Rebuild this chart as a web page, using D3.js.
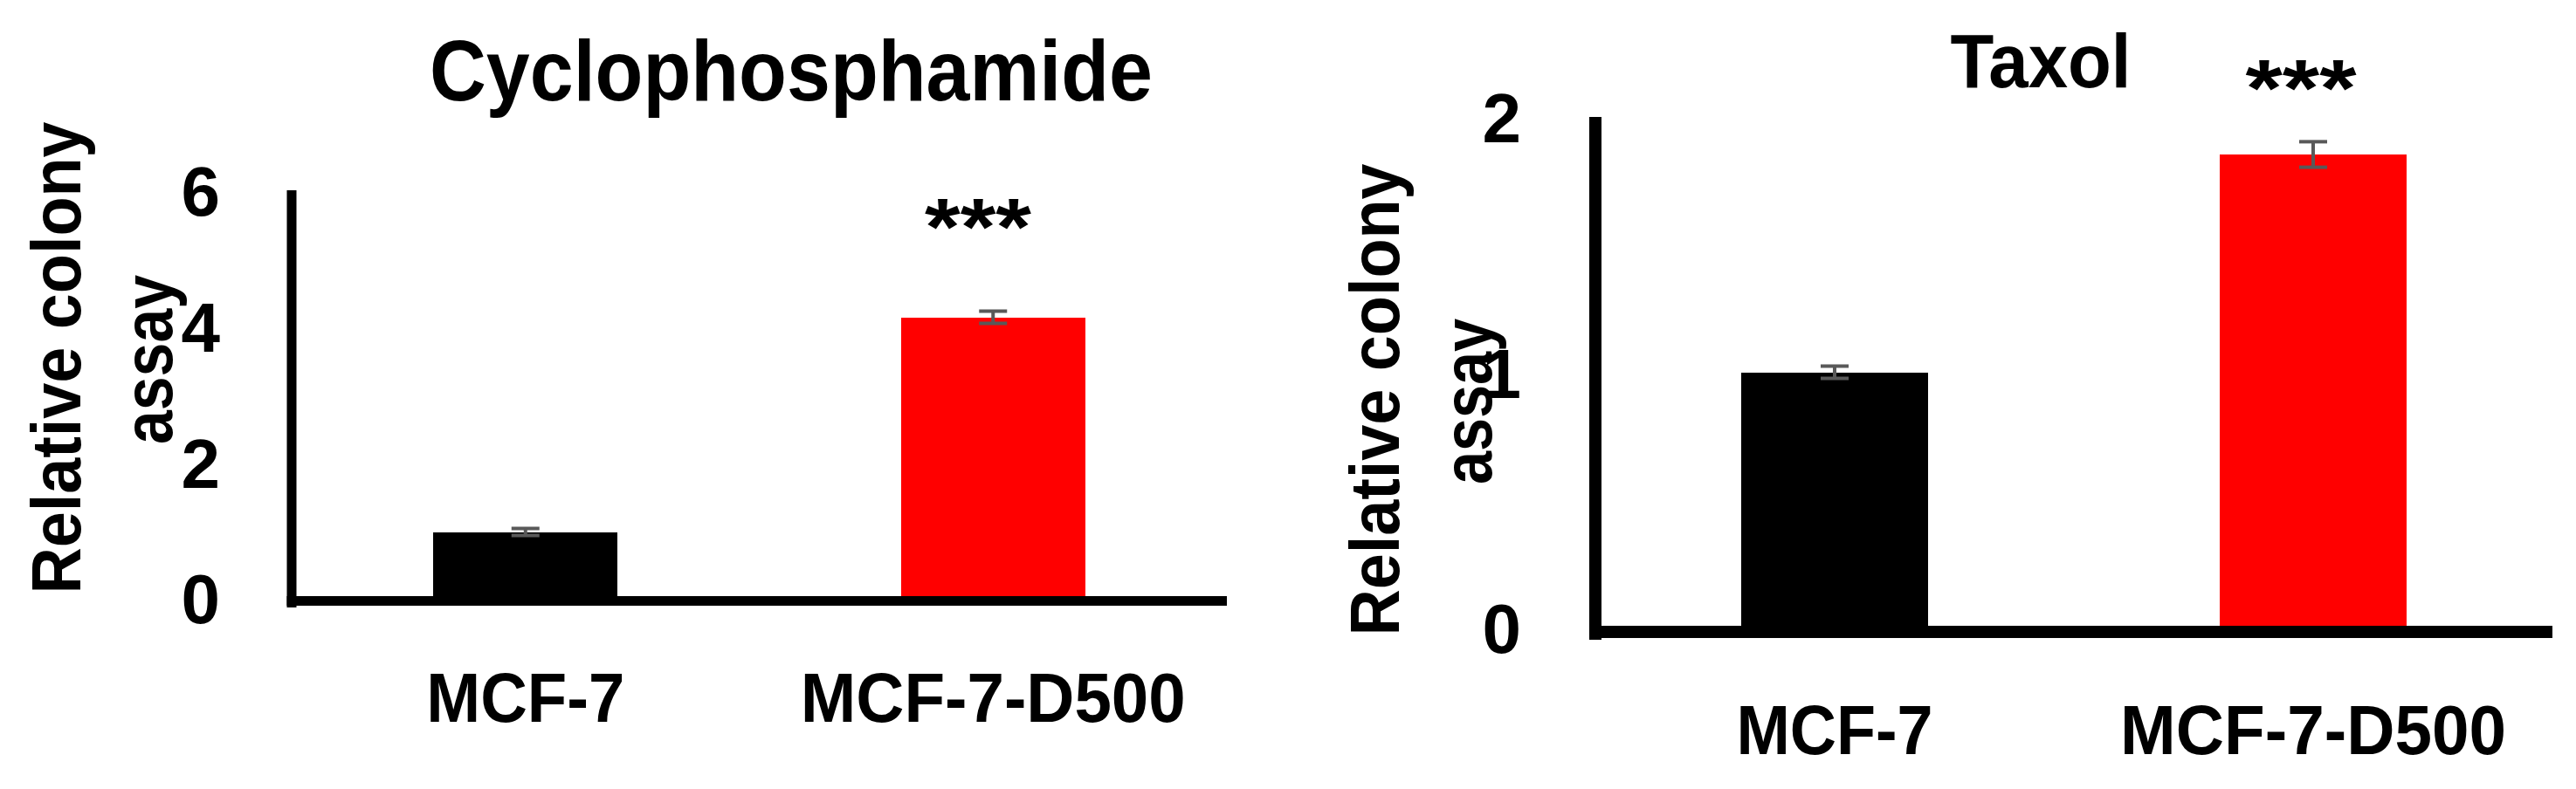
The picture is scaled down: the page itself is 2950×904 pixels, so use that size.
<!DOCTYPE html>
<html>
<head>
<meta charset="utf-8">
<script src="https://cdn.jsdelivr.net/npm/d3@7"></script>
<style>
  html, body { margin: 0; padding: 0; background: #fff; }
  svg text { font-family: "Liberation Sans", Arial, sans-serif; font-weight: bold; fill: #000; }
</style>
</head>
<body>
<svg id="chart" width="2950" height="904"></svg>
<script>
// ---- data ----
const categories = ["MCF-7", "MCF-7-D500"];
const barColors = ["#000000", "#ff0000"];

const cycloTitle = "Cyclophosphamide";
const cycloValues = [0.97, 4.13];
const cycloErrors = [0.05, 0.09];
const cycloTicks = [0, 2, 4, 6];
const cycloStars = ["", "***"];

const taxolTitle = "Taxol";
const taxolValues = [1.0, 1.853];
const taxolErrors = [0.024, 0.05];
const taxolTicks = [0, 1, 2];
const taxolStars = ["", "***"];

const yLabelLines = ["Relative colony", "assay"];

const svg = d3.select("#chart");

function drawPanel(cfg) {
  const g = svg.append("g");
  const y = d3.scaleLinear().domain(cfg.domain).range([cfg.y0, cfg.yTop]);
  const x = d3.scaleBand().domain(categories)
    .range([cfg.axisX, cfg.axisEnd])
    .paddingInner(cfg.padIn).paddingOuter(cfg.padIn / 2);

  // bars
  g.selectAll("rect.bar").data(cfg.values).join("rect")
    .attr("class", "bar")
    .attr("x", (d, i) => x(categories[i]))
    .attr("width", x.bandwidth())
    .attr("y", d => y(d))
    .attr("height", d => y(0) - y(d))
    .attr("fill", (d, i) => barColors[i])
    .attr("shape-rendering", "crispEdges");

  // error bars
  const eb = g.selectAll("g.err").data(cfg.values).join("g").attr("class", "err");
  eb.append("line")
    .attr("x1", (d, i) => x(categories[i]) + x.bandwidth() / 2)
    .attr("x2", (d, i) => x(categories[i]) + x.bandwidth() / 2)
    .attr("y1", (d, i) => y(d + cfg.errors[i]))
    .attr("y2", (d, i) => y(d - cfg.errors[i]))
    .attr("stroke", "#595959").attr("stroke-width", 4);
  [1, -1].forEach(s => {
    eb.append("line")
      .attr("x1", (d, i) => x(categories[i]) + x.bandwidth() / 2 - 16)
      .attr("x2", (d, i) => x(categories[i]) + x.bandwidth() / 2 + 16)
      .attr("y1", (d, i) => y(d + s * cfg.errors[i]))
      .attr("y2", (d, i) => y(d + s * cfg.errors[i]))
      .attr("stroke", "#595959").attr("stroke-width", 4);
  });

  // y axis
  const ya = g.append("g").attr("transform", `translate(${cfg.axisX},0)`)
    .call(d3.axisLeft(y).tickValues(cfg.ticks).tickSize(0).tickSizeOuter(0)
      .tickPadding(cfg.axisX - cfg.tickRight).tickFormat(d3.format("d")));
  ya.select(".domain").attr("stroke", "#000").attr("stroke-width", cfg.axisW)
    .attr("d", `M0,${cfg.y0 + cfg.axisW}V${cfg.yTop}`);
  ya.selectAll("text").attr("font-size", 80).attr("dy", "0.36em")
    .style("font-family", '"Liberation Sans", Arial, sans-serif').style("font-weight", "bold");

  // x axis
  const xa = g.append("g").attr("transform", `translate(0,${cfg.y0 + cfg.axisW / 2 - 2})`)
    .call(d3.axisBottom(x).tickSize(0).tickSizeOuter(0));
  xa.select(".domain").attr("stroke", "#000").attr("stroke-width", cfg.axisW)
    .attr("d", `M${cfg.axisX - cfg.axisW / 2},0H${cfg.axisEnd}`);
  xa.selectAll("text").attr("font-size", 80).attr("dy", 0)
    .attr("y", cfg.xLabelBase - (cfg.y0 + cfg.axisW / 2 - 2))
    .attr("textLength", (d, i) => cfg.xLabelLen[i]).attr("lengthAdjust", "spacingAndGlyphs")
    .style("font-family", '"Liberation Sans", Arial, sans-serif').style("font-weight", "bold");

  // title
  g.append("text").attr("x", cfg.titleX).attr("y", cfg.titleY)
    .attr("text-anchor", "middle").attr("font-size", cfg.titleSize)
    .attr("textLength", cfg.titleLen).attr("lengthAdjust", "spacingAndGlyphs")
    .text(cfg.title);

  // significance stars
  g.selectAll("text.star").data(cfg.stars).join("text").attr("class", "star")
    .filter(d => d !== "")
    .attr("x", cfg.starX).attr("y", cfg.starY)
    .attr("text-anchor", "middle").attr("font-size", 92)
    .attr("textLength", cfg.starLen).attr("lengthAdjust", "spacingAndGlyphs")
    .text(d => d);

  // y label
  yLabelLines.forEach((t, i) => {
    g.append("text")
      .attr("transform", `translate(${cfg.yLabX[i]},${cfg.yLabY[i]}) rotate(-90)`)
      .attr("text-anchor", "middle").attr("font-size", 80)
      .attr("textLength", cfg.yLabLen[i]).attr("lengthAdjust", "spacingAndGlyphs")
      .text(t);
  });
}

drawPanel({
  title: cycloTitle, values: cycloValues, errors: cycloErrors, ticks: cycloTicks, stars: cycloStars,
  domain: [0, 6], y0: 685, yTop: 218, axisX: 334, axisEnd: 1405, padIn: 0.606, axisW: 11,
  tickRight: 252, xLabelBase: 827, xLabelLen: [227, 441],
  titleX: 906, titleY: 115, titleSize: 98, titleLen: 828,
  starX: 1120, starY: 292, starLen: 122,
  yLabX: [92, 197], yLabY: [410, 412], yLabLen: [541, 194]
});

drawPanel({
  title: taxolTitle, values: taxolValues, errors: taxolErrors, ticks: taxolTicks, stars: taxolStars,
  domain: [0, 2], y0: 719, yTop: 134, axisX: 1827, axisEnd: 2923, padIn: 0.61, axisW: 14,
  tickRight: 1742, xLabelBase: 864, xLabelLen: [225, 442],
  titleX: 2337, titleY: 100, titleSize: 87, titleLen: 207,
  starX: 2635, starY: 133, starLen: 127,
  yLabX: [1602, 1708], yLabY: [458, 460], yLabLen: [541, 190]
});
</script>
</body>
</html>
